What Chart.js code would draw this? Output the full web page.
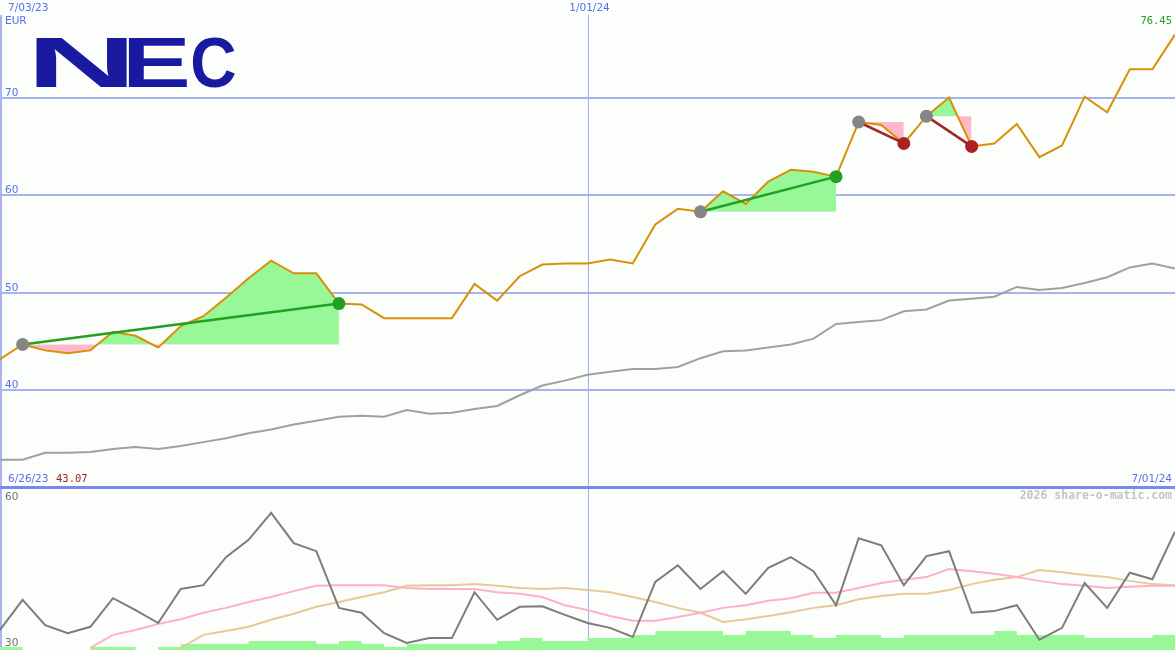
<!DOCTYPE html>
<html>
<head>
<meta charset="utf-8">
<script src="https://cdn.jsdelivr.net/npm/chart.js@4.4.1/dist/chart.umd.min.js"></script>
<style>
  html, body { margin: 0; padding: 0; background: #fcfefc; }
  #wrap { width: 1175px; height: 650px; position: relative; overflow: hidden; }
  #top { position: absolute; left: 0; top: 0; width: 1175px; height: 488px; }
  #bot { position: absolute; left: 0; top: 488px; width: 1175px; height: 162px; }
</style>
</head>
<body>
<div id="wrap">
  <div id="top"><canvas id="priceChart"></canvas></div>
  <div id="bot"><canvas id="rsiChart"></canvas></div>
</div>
<script>
// weekly closes 7/03/23 .. 7/01/24, EUR
const price = [43.2, 44.7, 44.1, 43.8, 44.1, 46.0, 45.6, 44.4, 46.6, 47.6,
               49.5, 51.5, 53.3, 52.0, 52.0, 48.9, 48.8, 47.4, 47.4, 47.4,
               47.4, 50.9, 49.2, 51.7, 52.9, 53.0, 53.0, 53.4, 53.0, 57.0,
               58.6, 58.3, 60.4, 59.1, 61.4, 62.6, 62.4, 61.9, 67.5, 67.2,
               65.3, 68.1, 70.0, 65.0, 65.3, 67.3, 63.9, 65.1, 70.1, 68.5,
               72.9, 72.9, 76.45];
// moving average (grey line)
const priceAvg = [32.9, 32.9, 33.6, 33.6, 33.7, 34.0, 34.2, 34.0, 34.3, 34.7,
                  35.1, 35.6, 36.0, 36.5, 36.9, 37.3, 37.4, 37.3, 38.0, 37.6,
                  37.7, 38.1, 38.4, 39.5, 40.5, 41.0, 41.6, 41.9, 42.2, 42.2,
                  42.4, 43.3, 44.0, 44.1, 44.4, 44.7, 45.3, 46.8, 47.0, 47.2,
                  48.1, 48.3, 49.2, 49.4, 49.6, 50.6, 50.3, 50.5, 51.0, 51.6,
                  52.6, 53.0, 52.5];
// lower panel
const rsi = [33.7, 39.3, 34.6, 33.1, 34.3, 39.6, 37.4, 35.0, 41.3, 42.0,
             47.2, 50.4, 55.4, 49.8, 48.3, 37.8, 36.9, 33.1, 31.3, 32.2,
             32.2, 40.7, 35.6, 38.0, 38.1, 36.5, 35.0, 34.1, 32.4, 42.6,
             45.7, 41.3, 44.6, 40.4, 45.2, 47.2, 44.6, 38.3, 50.7, 49.4,
             42.0, 47.4, 48.3, 36.9, 37.2, 38.3, 31.9, 34.1, 42.4, 37.8,
             44.3, 43.1, 51.9];
const rsiFast = [null, null, null, null, 30.4, 32.8, 33.7, 34.8, 35.7, 36.9,
                 37.8, 38.9, 39.8, 40.9, 41.9, 42.0, 42.0, 42.0, 41.5, 41.3,
                 41.3, 41.3, 40.7, 40.4, 39.8, 38.3, 37.4, 36.3, 35.4, 35.4,
                 36.1, 36.9, 37.8, 38.3, 39.1, 39.6, 40.6, 40.6, 41.5, 42.4,
                 43.0, 43.5, 45.0, 44.6, 44.1, 43.5, 42.8, 42.2, 41.9, 41.5,
                 41.7, 41.9, 41.9];
const rsiSlow = [null, null, null, null, null, null, null, null, 30.4, 32.8,
                 33.5, 34.3, 35.6, 36.7, 38.0, 38.9, 39.8, 40.7, 41.9, 42.0,
                 42.0, 42.2, 41.9, 41.5, 41.3, 41.5, 41.1, 40.7, 39.8, 38.9,
                 37.8, 36.9, 35.2, 35.7, 36.3, 37.0, 37.8, 38.3, 39.4, 40.0,
                 40.4, 40.4, 41.1, 42.2, 43.0, 43.5, 44.8, 44.4, 43.9, 43.5,
                 42.8, 42.2, 42.0];
const volume = [1, 0, 0, 0, 1, 1, 0, 1, 2, 2,
                2, 3, 3, 3, 2, 3, 2, 1, 2, 2,
                2, 2, 3, 4, 3, 3, 4, 4, 5, 6.3,
                6.3, 6.3, 5, 6.3, 6.3, 5, 4, 5, 5, 4,
                5, 5, 5, 5, 6.3, 5, 5, 5, 4, 4,
                4, 5, 5];

// signals: start week, end week
const sigStart = [1, 31, 38, 41];
const sigEnd = [15, 37, 40, 43];
const sigType = ['up', 'up', 'down', 'down'];

const dateLabels = ['7/03/23', '1/01/24', '7/01/24'];
const dateIdx = [0, 26, 52];
const priceTicks = [40, 50, 60, 70];
const rsiTicks = [60, 30];
const lowDate = '6/26/23';
const lowValue = '43.07';

const BLUE = '#5a6ee6';
const GRID = '#a8b4f0';
const labelFont = '10.5px "DejaVu Sans"';
const monoFont = '10.5px "DejaVu Sans Mono"';

const xy = arr => arr.map((v, i) => ({ x: i, y: v }));

function drawLogo(ctx) {
    const letters = ['N', 'E', 'C'];
    const lx = [35, 128, 192];
    const lw = [92, 59, 43];
    ctx.save();
    ctx.fillStyle = '#1a1aa0';
    ctx.font = 'bold 70px "Liberation Sans"';
    ctx.textBaseline = 'alphabetic';
    letters.forEach((ch, k) => {
        const m = ctx.measureText(ch);
        const w = m.actualBoundingBoxLeft + m.actualBoundingBoxRight;
        const s = lw[k] / w;
        ctx.save();
        ctx.translate(lx[k] + m.actualBoundingBoxLeft * s, 87);
        ctx.scale(s, 1);
        ctx.fillText(ch, 0, 0);
        ctx.restore();
    });
    ctx.restore();
}

// ===== upper panel =====
const priceFrame = {
    id: 'priceFrame',
    beforeDatasetsDraw(chart) {
        const ctx = chart.ctx;
        const xs = chart.scales.x;
        const ys = chart.scales.y;
        const w = chart.width;
        const h = chart.height;
        ctx.save();
        ctx.fillStyle = GRID;
        ctx.fillRect(0, 15, 2, h - 15);
        priceTicks.forEach(v => {
            ctx.fillRect(0, Math.round(ys.getPixelForValue(v)) - 1, w, 2);
        });
        ctx.fillStyle = '#a0acf0';
        ctx.fillRect(Math.round(xs.getPixelForValue(dateIdx[1])), 15, 1, h - 15);

        ctx.font = labelFont;
        ctx.fillStyle = BLUE;
        ctx.textAlign = 'left';
        ctx.textBaseline = 'alphabetic';
        priceTicks.forEach(v => {
            ctx.fillText(String(v), 5, Math.round(ys.getPixelForValue(v)) - 2);
        });
        ctx.restore();
    },
    afterDraw(chart) {
        const ctx = chart.ctx;
        const xs = chart.scales.x;
        const w = chart.width;
        const h = chart.height;
        ctx.save();
        ctx.fillStyle = '#7888ee';
        ctx.fillRect(0, h - 2, w, 2);

        ctx.textBaseline = 'middle';
        ctx.font = labelFont;
        ctx.fillStyle = BLUE;
        ctx.textAlign = 'left';
        ctx.fillText(dateLabels[0], 8, 8);
        ctx.fillText('EUR', 5, 21);
        ctx.fillText(lowDate, 8, h - 9);
        ctx.textAlign = 'center';
        ctx.fillText(dateLabels[1], xs.getPixelForValue(dateIdx[1]) + 2, 8);
        ctx.textAlign = 'right';
        ctx.fillText(dateLabels[2], w - 3, h - 9);

        ctx.font = monoFont;
        ctx.textAlign = 'left';
        ctx.fillStyle = '#a02020';
        ctx.fillText(lowValue, 56, h - 9);
        ctx.textAlign = 'right';
        ctx.fillStyle = '#2a9a2a';
        ctx.fillText(price[price.length - 1].toFixed(2), w - 3, 21);
        ctx.restore();

        drawLogo(ctx);
    }
};

const priceSets = [];
sigStart.forEach((s, k) => {
    const e = sigEnd[k];
    const up = sigType[k] === 'up';
    priceSets.push({
        data: [{ x: s, y: price[s] }, { x: e, y: price[e] }],
        borderColor: up ? '#22a022' : '#a02828',
        borderWidth: 2.5,
        pointRadius: 6.5,
        pointBorderWidth: 0,
        pointBackgroundColor: ['#858585', up ? '#22a022' : '#aa2222'],
        order: 1
    });
    priceSets.push({
        data: price.slice(s, e + 1).map((v, j) => ({ x: s + j, y: v })),
        borderWidth: 0,
        pointRadius: 0,
        fill: { target: { value: price[s] }, above: '#98f898', below: '#ffb6c8' },
        order: 4
    });
});
priceSets.push({ data: xy(price), borderColor: '#d8900a', borderWidth: 2, pointRadius: 0, order: 2 });
priceSets.push({ data: xy(priceAvg), borderColor: '#a0a0a0', borderWidth: 2, pointRadius: 0, order: 3 });

new Chart(document.getElementById('priceChart'), {
    type: 'line',
    data: { datasets: priceSets },
    options: {
        responsive: true,
        maintainAspectRatio: false,
        animation: false,
        events: [],
        layout: { padding: 0, autoPadding: false },
        elements: { line: { tension: 0 } },
        plugins: { legend: { display: false }, tooltip: { enabled: false } },
        scales: {
            x: { type: 'linear', min: 0, max: 52, display: false },
            y: { min: 30, max: 80, display: false }
        }
    },
    plugins: [priceFrame]
});

// ===== lower panel =====
const rsiFrame = {
    id: 'rsiFrame',
    beforeDatasetsDraw(chart) {
        const ctx = chart.ctx;
        const xs = chart.scales.x;
        ctx.save();
        ctx.fillStyle = GRID;
        ctx.fillRect(0, 0, 2, chart.height);
        ctx.fillStyle = '#a0acf0';
        ctx.fillRect(Math.round(xs.getPixelForValue(dateIdx[1])), 0, 1, chart.height);
        ctx.restore();
    },
    afterDraw(chart) {
        const ctx = chart.ctx;
        const ys = chart.scales.y;
        ctx.save();
        ctx.fillStyle = '#7888ee';
        ctx.fillRect(0, 0, chart.width, 1);
        ctx.font = labelFont;
        ctx.fillStyle = '#707070';
        ctx.textAlign = 'left';
        ctx.textBaseline = 'alphabetic';
        ctx.fillText(String(rsiTicks[0]), 5, ys.getPixelForValue(rsiTicks[0]) + 12);
        ctx.fillText(String(rsiTicks[1]), 5, ys.getPixelForValue(rsiTicks[1]) - 4);
        ctx.font = 'bold 11.5px "DejaVu Sans Mono"';
        ctx.fillStyle = '#c4c4c4';
        ctx.textAlign = 'right';
        ctx.textBaseline = 'middle';
        ctx.fillText('2026 share-o-matic.com', chart.width - 3, 8);
        ctx.restore();
    }
};

new Chart(document.getElementById('rsiChart'), {
    type: 'line',
    data: {
        datasets: [
            { data: xy(rsi), borderColor: '#7c7c7c', borderWidth: 2, pointRadius: 0, yAxisID: 'y', order: 1 },
            { data: xy(rsiFast), borderColor: '#ffb0c8', borderWidth: 2, pointRadius: 0, yAxisID: 'y', order: 2 },
            { data: xy(rsiSlow), borderColor: '#e8c898', borderWidth: 2, pointRadius: 0, yAxisID: 'y', order: 3 },
            {
                data: xy(volume), yAxisID: 'v', stepped: true, borderWidth: 0, pointRadius: 0,
                fill: 'origin', backgroundColor: '#98f898', order: 4
            }
        ]
    },
    options: {
        responsive: true,
        maintainAspectRatio: false,
        animation: false,
        events: [],
        layout: { padding: 0, autoPadding: false },
        elements: { line: { tension: 0 } },
        plugins: { legend: { display: false }, tooltip: { enabled: false } },
        scales: {
            x: { type: 'linear', min: 0, max: 52, display: false },
            y: { min: 30, max: 60, display: false },
            v: { min: 0, max: 54, display: false }
        }
    },
    plugins: [rsiFrame]
});
</script>
</body>
</html>
